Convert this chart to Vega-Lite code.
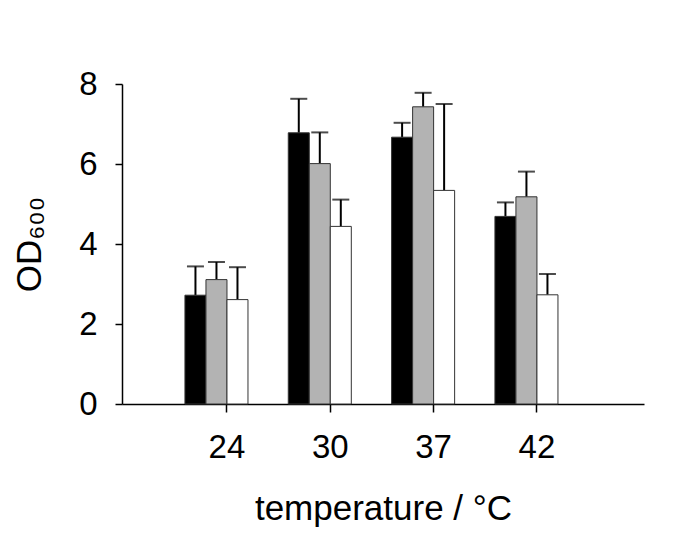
{
  "$schema": "https://vega.github.io/schema/vega-lite/v6.json",
  "width": 522,
  "height": 320,
  "autosize": "none",
  "padding": {"left": 122, "top": 84, "right": 41, "bottom": 131},
  "background": "white",
  "config": {
    "view": {"stroke": null},
    "font": "Liberation Sans",
    "axis": {"grid": false, "domainColor": "#000", "tickColor": "#000", "labelColor": "#000", "titleColor": "#000", "domainWidth": 1.5, "tickWidth": 1.5, "labelFont": "Liberation Sans", "titleFont": "Liberation Sans", "titleFontWeight": "normal"}
  },
  "data": {
    "values": [
      {"temp": "24", "series": "s1", "mean": 2.72, "upper": 3.44},
      {"temp": "24", "series": "s2", "mean": 3.11, "upper": 3.55},
      {"temp": "24", "series": "s3", "mean": 2.61, "upper": 3.42},
      {"temp": "30", "series": "s1", "mean": 6.78, "upper": 7.63},
      {"temp": "30", "series": "s2", "mean": 6.01, "upper": 6.79},
      {"temp": "30", "series": "s3", "mean": 4.44, "upper": 5.11},
      {"temp": "37", "series": "s1", "mean": 6.67, "upper": 7.03},
      {"temp": "37", "series": "s2", "mean": 7.43, "upper": 7.78},
      {"temp": "37", "series": "s3", "mean": 5.34, "upper": 7.5},
      {"temp": "42", "series": "s1", "mean": 4.69, "upper": 5.04},
      {"temp": "42", "series": "s2", "mean": 5.18, "upper": 5.81},
      {"temp": "42", "series": "s3", "mean": 2.73, "upper": 3.25}
    ]
  },
  "encoding": {
    "x": {
      "field": "temp", "type": "nominal",
      "scale": {"domain": ["24", "30", "37", "42"], "paddingInner": 0.39, "paddingOuter": 0.721, "align": 0.4225},
      "axis": {"title": "temperature / °C", "labelAngle": 0, "bandPosition": 0.667, "labelOffset": 10.5, "tickSize": 8, "labelFontSize": 33, "labelPadding": 19, "titleFontSize": 35, "titlePadding": 27}
    },
    "xOffset": {"field": "series", "type": "nominal", "scale": {"domain": ["s1", "s2", "s3"]}}
  },
  "layer": [
    {
      "mark": {"type": "rule", "color": "#000", "strokeWidth": 2},
      "encoding": {
        "y": {"field": "mean", "type": "quantitative"},
        "y2": {"field": "upper"}
      }
    },
    {
      "mark": {"type": "tick", "color": "#000", "thickness": 2, "size": 17, "orient": "horizontal"},
      "encoding": {
        "y": {"field": "upper", "type": "quantitative"}
      }
    },
    {
      "mark": {"type": "bar", "stroke": "#333", "strokeWidth": 1},
      "encoding": {
        "y": {
          "field": "mean", "type": "quantitative",
          "scale": {"domain": [0, 8], "nice": false},
          "axis": {"title": "OD₆₀₀", "values": [0, 2, 4, 6, 8], "tickSize": 7, "labelFontSize": 33, "labelPadding": 18, "titleFontSize": 35, "titlePadding": 31}
        },
        "fill": {"field": "series", "type": "nominal", "legend": null, "scale": {"domain": ["s1", "s2", "s3"], "range": ["#000000", "#b3b3b3", "#ffffff"]}}
      }
    }
  ]
}
